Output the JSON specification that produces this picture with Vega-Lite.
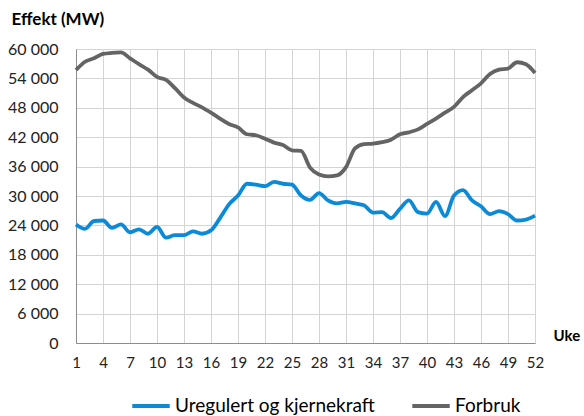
{
  "$schema": "https://vega.github.io/schema/vega-lite/v6.json",
  "width": 459,
  "height": 294,
  "autosize": {"type": "none"},
  "padding": {"left": 76, "top": 49, "right": 49, "bottom": 73},
  "background": "white",
  "config": {
    "font": "Lato",
    "view": {"stroke": null}
  },
  "data": {
    "values": [
      {"week":1,"series":"Forbruk","v":55700},{"week":2,"series":"Forbruk","v":57400},{"week":3,"series":"Forbruk","v":58100},{"week":4,"series":"Forbruk","v":59000},{"week":5,"series":"Forbruk","v":59200},{"week":6,"series":"Forbruk","v":59300},{"week":7,"series":"Forbruk","v":58100},{"week":8,"series":"Forbruk","v":56900},{"week":9,"series":"Forbruk","v":55800},{"week":10,"series":"Forbruk","v":54300},{"week":11,"series":"Forbruk","v":53700},{"week":12,"series":"Forbruk","v":52000},{"week":13,"series":"Forbruk","v":50100},{"week":14,"series":"Forbruk","v":49000},{"week":15,"series":"Forbruk","v":48100},{"week":16,"series":"Forbruk","v":47000},{"week":17,"series":"Forbruk","v":45800},{"week":18,"series":"Forbruk","v":44700},{"week":19,"series":"Forbruk","v":44000},{"week":20,"series":"Forbruk","v":42600},{"week":21,"series":"Forbruk","v":42400},{"week":22,"series":"Forbruk","v":41700},{"week":23,"series":"Forbruk","v":40900},{"week":24,"series":"Forbruk","v":40400},{"week":25,"series":"Forbruk","v":39300},{"week":26,"series":"Forbruk","v":39200},{"week":27,"series":"Forbruk","v":35800},{"week":28,"series":"Forbruk","v":34400},{"week":29,"series":"Forbruk","v":34000},{"week":30,"series":"Forbruk","v":34200},{"week":31,"series":"Forbruk","v":35900},{"week":32,"series":"Forbruk","v":39700},{"week":33,"series":"Forbruk","v":40600},{"week":34,"series":"Forbruk","v":40700},{"week":35,"series":"Forbruk","v":41000},{"week":36,"series":"Forbruk","v":41500},{"week":37,"series":"Forbruk","v":42600},{"week":38,"series":"Forbruk","v":43000},{"week":39,"series":"Forbruk","v":43600},{"week":40,"series":"Forbruk","v":44700},{"week":41,"series":"Forbruk","v":45800},{"week":42,"series":"Forbruk","v":47000},{"week":43,"series":"Forbruk","v":48200},{"week":44,"series":"Forbruk","v":50200},{"week":45,"series":"Forbruk","v":51600},{"week":46,"series":"Forbruk","v":53000},{"week":47,"series":"Forbruk","v":54900},{"week":48,"series":"Forbruk","v":55800},{"week":49,"series":"Forbruk","v":56000},{"week":50,"series":"Forbruk","v":57300},{"week":51,"series":"Forbruk","v":56900},{"week":52,"series":"Forbruk","v":55100},
      {"week":1,"series":"Uregulert og kjernekraft","v":24200},{"week":2,"series":"Uregulert og kjernekraft","v":23300},{"week":3,"series":"Uregulert og kjernekraft","v":24900},{"week":4,"series":"Uregulert og kjernekraft","v":25000},{"week":5,"series":"Uregulert og kjernekraft","v":23500},{"week":6,"series":"Uregulert og kjernekraft","v":24200},{"week":7,"series":"Uregulert og kjernekraft","v":22600},{"week":8,"series":"Uregulert og kjernekraft","v":23200},{"week":9,"series":"Uregulert og kjernekraft","v":22300},{"week":10,"series":"Uregulert og kjernekraft","v":23700},{"week":11,"series":"Uregulert og kjernekraft","v":21500},{"week":12,"series":"Uregulert og kjernekraft","v":22000},{"week":13,"series":"Uregulert og kjernekraft","v":22000},{"week":14,"series":"Uregulert og kjernekraft","v":22800},{"week":15,"series":"Uregulert og kjernekraft","v":22300},{"week":16,"series":"Uregulert og kjernekraft","v":23000},{"week":17,"series":"Uregulert og kjernekraft","v":25500},{"week":18,"series":"Uregulert og kjernekraft","v":28300},{"week":19,"series":"Uregulert og kjernekraft","v":30100},{"week":20,"series":"Uregulert og kjernekraft","v":32500},{"week":21,"series":"Uregulert og kjernekraft","v":32300},{"week":22,"series":"Uregulert og kjernekraft","v":32000},{"week":23,"series":"Uregulert og kjernekraft","v":32900},{"week":24,"series":"Uregulert og kjernekraft","v":32500},{"week":25,"series":"Uregulert og kjernekraft","v":32300},{"week":26,"series":"Uregulert og kjernekraft","v":30100},{"week":27,"series":"Uregulert og kjernekraft","v":29200},{"week":28,"series":"Uregulert og kjernekraft","v":30600},{"week":29,"series":"Uregulert og kjernekraft","v":29100},{"week":30,"series":"Uregulert og kjernekraft","v":28500},{"week":31,"series":"Uregulert og kjernekraft","v":28800},{"week":32,"series":"Uregulert og kjernekraft","v":28500},{"week":33,"series":"Uregulert og kjernekraft","v":28100},{"week":34,"series":"Uregulert og kjernekraft","v":26600},{"week":35,"series":"Uregulert og kjernekraft","v":26700},{"week":36,"series":"Uregulert og kjernekraft","v":25500},{"week":37,"series":"Uregulert og kjernekraft","v":27400},{"week":38,"series":"Uregulert og kjernekraft","v":29100},{"week":39,"series":"Uregulert og kjernekraft","v":26700},{"week":40,"series":"Uregulert og kjernekraft","v":26400},{"week":41,"series":"Uregulert og kjernekraft","v":28800},{"week":42,"series":"Uregulert og kjernekraft","v":25900},{"week":43,"series":"Uregulert og kjernekraft","v":30100},{"week":44,"series":"Uregulert og kjernekraft","v":31200},{"week":45,"series":"Uregulert og kjernekraft","v":29100},{"week":46,"series":"Uregulert og kjernekraft","v":27900},{"week":47,"series":"Uregulert og kjernekraft","v":26300},{"week":48,"series":"Uregulert og kjernekraft","v":26900},{"week":49,"series":"Uregulert og kjernekraft","v":26300},{"week":50,"series":"Uregulert og kjernekraft","v":25000},{"week":51,"series":"Uregulert og kjernekraft","v":25200},{"week":52,"series":"Uregulert og kjernekraft","v":26000}
    ]
  },
  "mark": {"type": "line", "interpolate": "monotone", "strokeWidth": 3.8},
  "encoding": {
    "x": {
      "field": "week", "type": "quantitative",
      "scale": {"domain": [1, 52], "nice": false, "zero": false},
      "axis": {
        "values": [1,4,7,10,13,16,19,22,25,28,31,34,37,40,43,46,49,52],
        "title": "Uke",
        "titleFont": "Lato", "titleFontSize": 15, "titleFontWeight": "bold", "titleColor": "#000000",
        "titleAngle": 0, "titleAlign": "left", "titleBaseline": "alphabetic",
        "titleX": 477, "titleY": -3,
        "labelFontSize": 15, "labelColor": "#222222", "labelPadding": 12,
        "labelFlush": false, "labelOverlap": false,
        "ticks": false, "domainColor": "#8c8c8c", "domainWidth": 1,
        "grid": true, "gridColor": "#d4d4d4", "gridWidth": 1
      }
    },
    "y": {
      "field": "v", "type": "quantitative",
      "scale": {"domain": [0, 60000], "nice": false},
      "axis": {
        "values": [0,6000,12000,18000,24000,30000,36000,42000,48000,54000,60000],
        "labelExpr": "replace(format(datum.value, ','), ',', ' ')",
        "labelOverlap": false,
        "title": "Effekt (MW)",
        "titleFont": "Lato", "titleFontSize": 17, "titleFontWeight": "bold", "titleColor": "#000000",
        "titleAngle": 0, "titleAlign": "left", "titleBaseline": "alphabetic",
        "titleX": -65, "titleY": -25,
        "labelFontSize": 16, "labelColor": "#222222", "labelPadding": 18,
        "ticks": false, "domainColor": "#8c8c8c", "domainWidth": 1,
        "grid": true, "gridColor": "#d4d4d4", "gridWidth": 1
      }
    },
    "color": {
      "field": "series", "type": "nominal",
      "scale": {"domain": ["Uregulert og kjernekraft", "Forbruk"], "range": ["#0b8ad8", "#646464"]},
      "legend": {
        "orient": "none", "direction": "horizontal",
        "legendX": 54, "legendY": 336,
        "title": null,
        "symbolType": "stroke", "symbolSize": 1400, "symbolStrokeWidth": 3.8,
        "labelFontSize": 19, "labelColor": "#000000", "labelOffset": 3, "labelLimit": 400,
        "columnPadding": 29
      }
    }
  }
}
